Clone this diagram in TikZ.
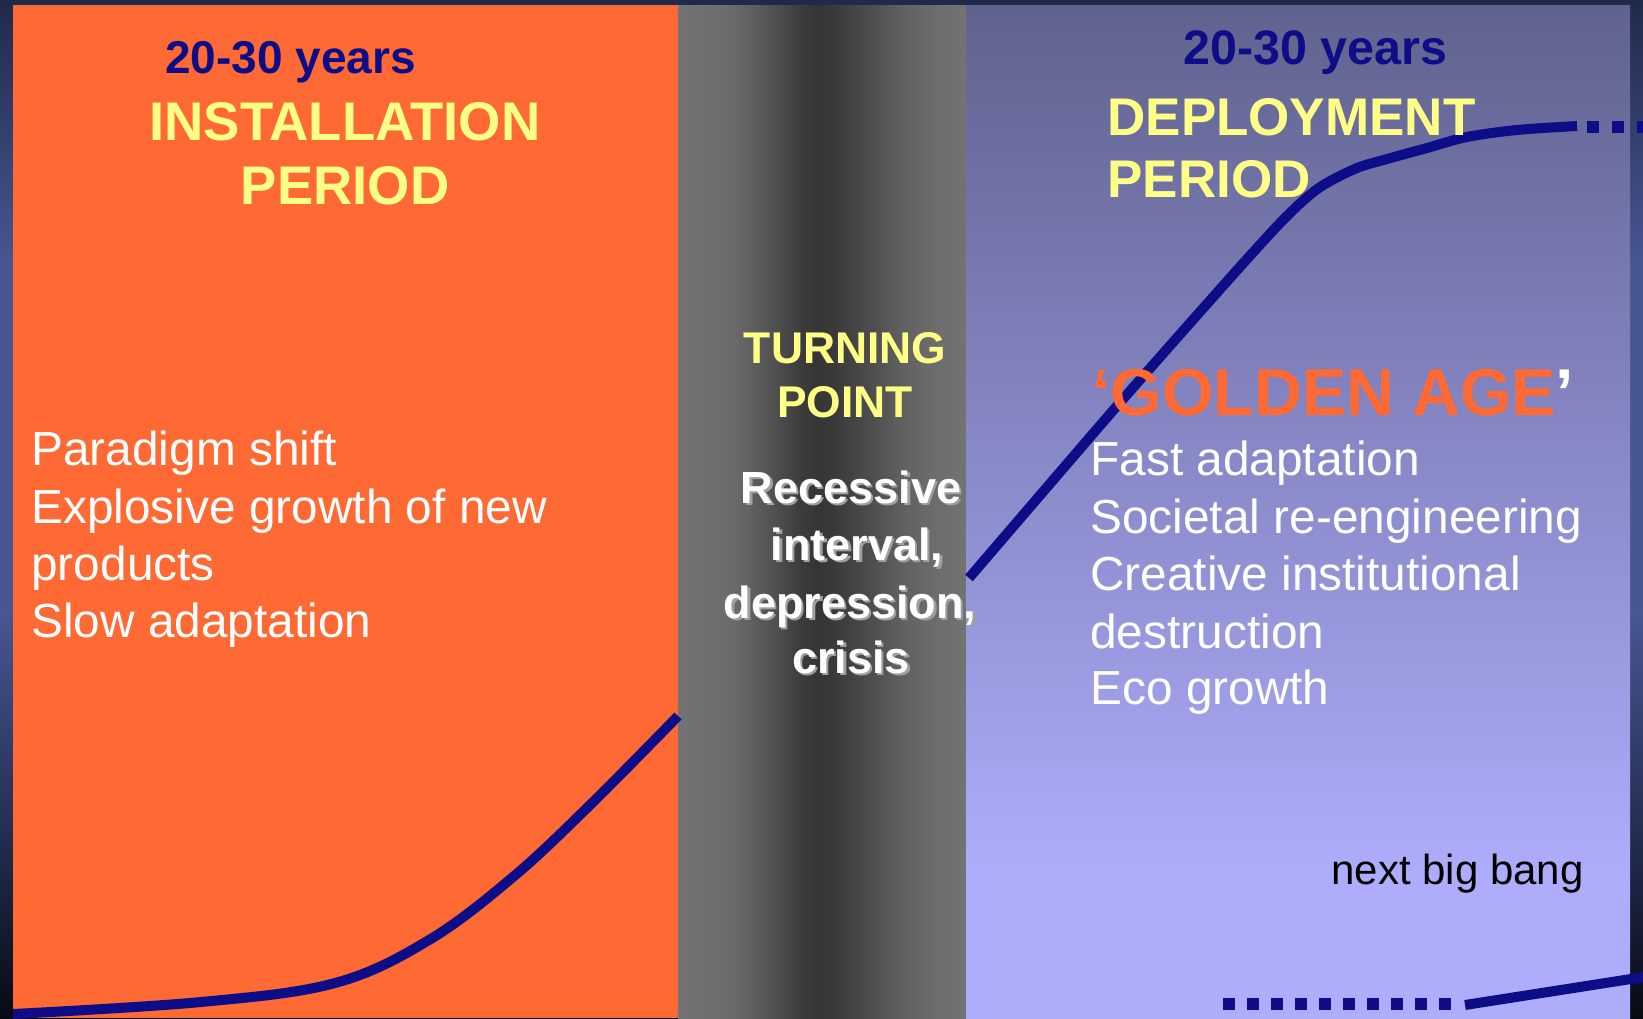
\documentclass[tikz,border=0pt]{standalone}
\usepackage{fontspec}
\setmainfont{Liberation Sans}
\definecolor{navy}{RGB}{13,13,136}
\definecolor{orng}{RGB}{255,105,51}
\definecolor{yel}{RGB}{255,255,136}
\definecolor{ptop}{RGB}{96,98,142}
\definecolor{pbot}{RGB}{173,173,252}
\definecolor{bgtop}{RGB}{31,42,74}
\definecolor{bgmid}{RGB}{72,86,146}
\definecolor{bgbot}{RGB}{8,10,20}
\definecolor{shd}{RGB}{160,160,160}
\pgfdeclareverticalshading{bgshade}{100bp}{color(0bp)=(bgbot); color(25bp)=(bgbot); color(33bp)=(bgtop); color(45bp)=(bgmid); color(62bp)=(bgmid); color(75bp)=(bgtop); color(100bp)=(bgtop)}
\pgfdeclareverticalshading{purpshade}{100bp}{color(0bp)=(pbot); color(32bp)=(pbot); color(75bp)=(ptop); color(100bp)=(ptop)}
\pgfdeclarehorizontalshading{grayshade}{100bp}{rgb(0bp)=(0.451,0.451,0.451); rgb(25bp)=(0.451,0.451,0.451); rgb(34.5bp)=(0.42,0.42,0.42); rgb(40.5bp)=(0.333,0.333,0.333); rgb(46.2bp)=(0.235,0.235,0.235); rgb(49.1bp)=(0.208,0.208,0.208); rgb(51.9bp)=(0.224,0.224,0.224); rgb(57.8bp)=(0.294,0.294,0.294); rgb(63.5bp)=(0.373,0.373,0.373); rgb(69.3bp)=(0.424,0.424,0.424); rgb(75bp)=(0.451,0.451,0.451); rgb(100bp)=(0.451,0.451,0.451)}
\tikzset{
  curve/.style={draw=navy, line width=5pt, line cap=butt, line join=round},
  dotline/.style={draw=navy, line width=6pt, line cap=butt},
  yrs/.style={font=\bfseries\fontsize{23}{27}\selectfont, text=navy, inner sep=0pt, anchor=base west},
  headc/.style={font=\bfseries\fontsize{27.2}{32}\selectfont, text=yel, inner sep=0pt, anchor=base},
  headl/.style={font=\bfseries\fontsize{26.5}{31}\selectfont, text=yel, inner sep=0pt, anchor=base west},
  turn/.style={font=\bfseries\fontsize{22.2}{26}\selectfont, text=yel, inner sep=0pt, anchor=base},
  rtxt/.style={font=\bfseries\fontsize{22.5}{27}\selectfont, text=white, inner sep=0pt, anchor=base},
  rshd/.style={rtxt, text=shd},
  body/.style={font=\fontsize{23.9}{28}\selectfont, text=white, inner sep=0pt, anchor=base west},
  gold/.style={font=\bfseries\fontsize{33.1}{38}\selectfont, text=orng, inner sep=0pt, anchor=base west},
  bang/.style={font=\fontsize{21}{25}\selectfont, text=black, inner sep=0pt, anchor=base east}
}
\begin{document}
\begin{tikzpicture}[x=0.5pt,y=-0.5pt]
\useasboundingbox (0,0) rectangle (1643,1018);
\clip (0,0) rectangle (1643,1018);
% backgrounds
\shade[shading=bgshade] (0,0) rectangle (1643,1018);
\fill[orng] (13,5) rectangle (678,1018);
\shade[shading=grayshade] (678,5) rectangle (966,1018);
\shade[shading=purpshade] (966,5) rectangle (1630,1018);
% curves
\draw[curve] plot[smooth, tension=0.6] coordinates {(13,1014) (201,1002) (335,983) (429,940) (513,877) (590,805) (678,716)};
\draw[curve] plot[smooth, tension=0.55] coordinates {(969,578) (1048,486) (1110,414) (1175,340) (1230,278) (1257,248) (1282,221) (1305,199) (1325,184) (1357,168) (1387,159) (1427,148) (1467,137) (1517,130) (1577,126)};
\coordinate (dtA) at (1587,126.5);
\coordinate (dtB) at (1650,126.5);
\draw[dotline, dash pattern=on 5.75pt off 6.75pt] (dtA) -- (dtB);
\coordinate (dbA) at (1223,1004);
\coordinate (dbB) at (1452,1004);
\draw[dotline, dash pattern=on 6pt off 6pt] (dbA) -- (dbB);
\coordinate (sbA) at (1465,1005);
\coordinate (sbB) at (1650,976);
\draw[curve] (sbA) -- (sbB);
% headings
\node[yrs] (yrsL) at (165,73) {20-30 years};
\node[yrs, font=\bfseries\fontsize{24.2}{28}\selectfont] (yrsR) at (1183,64) {20-30 years};
\node[headc] (inst1) at (345,140) {INSTALLATION};
\node[headc] (inst2) at (345,204) {PERIOD};
\node[headl] (dep1) at (1107,135) {DEPLOYMENT};
\node[headl] (dep2) at (1107,197) {PERIOD};
\node[turn] (turn1) at (845,363) {TURNING};
\node[turn] (turn2) at (845,417) {POINT};
% recessive text with shadow
\node[rshd] (r1s) at (853.5,505) {Recessive};
\node[rshd] (r2s) at (859.5,562) {interval,};
\node[rshd] (r3s) at (852.5,620) {depression,};
\node[rshd] (r4s) at (853.5,675) {crisis};
\node[rtxt] (r1) at (851,503) {Recessive};
\node[rtxt] (r2) at (857,560) {interval,};
\node[rtxt] (r3) at (850,618) {depression,};
\node[rtxt] (r4) at (851,673) {crisis};
% left list
\node[body] (l1) at (31,465) {Paradigm shift};
\node[body] (l2) at (31,523) {Explosive growth of new};
\node[body] (l3) at (31,580) {products};
\node[body] (l4) at (31,637.5) {Slow adaptation};
% golden age
\node[gold] (gold) at (1092,415) {‘GOLDEN AGE\textcolor{white}{’}};
% right list
\node[body] (g1) at (1090,475) {Fast adaptation};
\node[body] (g2) at (1090,533) {Societal re-engineering};
\node[body] (g3) at (1090,590) {Creative institutional};
\node[body] (g4) at (1090,648) {destruction};
\node[body] (g5) at (1090,704) {Eco growth};
\node[bang] (nbb) at (1584,884) {next big bang};
\end{tikzpicture}
\end{document}
